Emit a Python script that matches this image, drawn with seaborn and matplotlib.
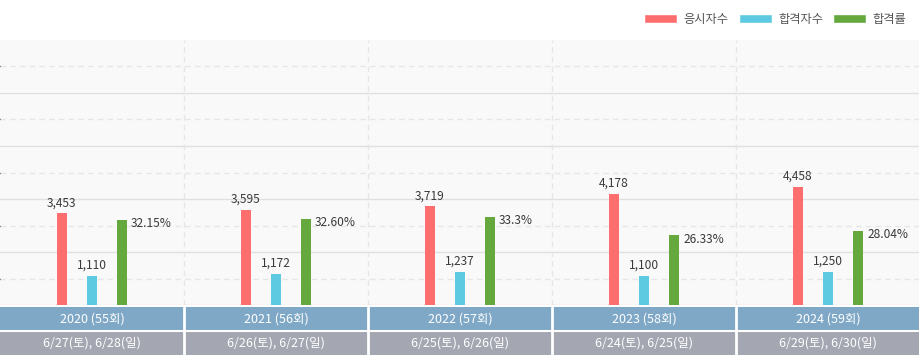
import matplotlib
matplotlib.use("Agg")
import matplotlib.pyplot as plt
import seaborn as sns
import pandas as pd
from matplotlib.patches import Patch

years = ["2020 (55회)", "2021 (56회)", "2022 (57회)", "2023 (58회)", "2024 (59회)"]
dates = ["6/27(토), 6/28(일)", "6/26(토), 6/27(일)", "6/25(토), 6/26(일)",
         "6/24(토), 6/25(일)", "6/29(토), 6/30(일)"]
applicants = [3453, 3595, 3719, 4178, 4458]
passers = [1110, 1172, 1237, 1100, 1250]
pass_rate = [32.15, 32.60, 33.3, 26.33, 28.04]
rate_labels = ["32.15%", "32.60%", "33.3%", "26.33%", "28.04%"]

series = ["응시자수", "합격자수", "합격률"]
colors = {"응시자수": "#ff6e6e", "합격자수": "#5ecae2", "합격률": "#64a83e"}

df = pd.DataFrame({
    "year": years * 3,
    "series": [series[0]] * 5 + [series[1]] * 5 + [series[2]] * 5,
    "value": applicants + passers + pass_rate,
})
is_rate = df["series"] == series[2]
# counts go on the left scale, the rate on its own 0-100 scale;
# the other series are kept at zero height so every group keeps three slots
left = df.assign(value=df["value"].where(~is_rate, 0))
right = df.assign(value=df["value"].where(is_rate, 0))

sns.set_theme(style="white")
plt.rcParams["font.family"] = ["Noto Sans CJK KR", "DejaVu Sans"]

fig = plt.figure(figsize=(9.2, 3.55), dpi=100)
ax = fig.add_axes([0, 50 / 355, 1, 265 / 355])
ax.set_facecolor("#f9f9f9")

W, GAP = 0.49, 0.67
opts = dict(x="year", y="value", hue="series", hue_order=series, order=years,
            palette=colors, width=W, gap=GAP, legend=False, saturation=1,
            errorbar=None, linewidth=0, zorder=3)
sns.barplot(data=left, ax=ax, **opts)
ax.set_ylim(0, 10000)
ax.set_yticks(range(0, 8001, 2000))
ax.set_yticks(range(1000, 10000, 2000), minor=True)
ax.grid(axis="y", which="major", color="#e0e0e0", lw=1, ls="-", zorder=0)
ax.grid(axis="y", which="minor", color="#e6e6e6", lw=1, ls=(0, (4, 3)), zorder=0)
ax.tick_params(left=False, bottom=False, which="both", labelleft=False, labelbottom=False)
for i in range(1, len(years)):
    ax.axvline(i - 0.5, color="#e6e6e6", lw=1, ls=(0, (4, 3)), zorder=1)
for s in ax.spines.values():
    s.set_visible(False)
ax.set_xlabel("")
ax.set_ylabel("")

ax2 = ax.twinx()
sns.barplot(data=right, ax=ax2, **opts)
ax2.set_ylim(0, 100)
ax2.axis("off")
ax.set_xlim(-0.5, len(years) - 0.5)
ax2.set_xlim(-0.5, len(years) - 0.5)

txt = "#3a3a3a"
for c in ax.containers[:2]:
    ax.bar_label(c, labels=[f"{v:,.0f}" for v in c.datavalues], padding=3,
                 fontsize=8.6, color=txt)
for bar, lab in zip(ax2.containers[2].patches, rate_labels):
    ax2.text(bar.get_x() + bar.get_width() + 0.022, bar.get_height() - 1.5, lab,
             ha="left", va="center", fontsize=8.6, color=txt)

# year / date rows below the chart
tax = fig.add_axes([0, 0, 1, 48 / 355])
tax.set_xlim(-0.5, len(years) - 0.5)
tax.set_ylim(0, 2)
tax.axhspan(1, 2, color="#7fa8c7", lw=0)
tax.axhspan(0, 1, color="#a4a7b1", lw=0)
tax.axhline(1, color="white", lw=1.5)
for i in range(1, len(years)):
    tax.axvline(i - 0.5, color="white", lw=2)
for i, (y, d) in enumerate(zip(years, dates)):
    tax.text(i, 1.5, y, ha="center", va="center", color="white", fontsize=9)
    tax.text(i, 0.5, d, ha="center", va="center", color="white", fontsize=9)
tax.axis("off")

handles = [Patch(facecolor=colors[s], label=s) for s in series]
fig.legend(handles=handles, loc="upper right", bbox_to_anchor=(0.997, 0.994), ncol=3,
           frameon=False, fontsize=8.8, handlelength=2.7, handleheight=0.75,
           columnspacing=0.85, handletextpad=0.5, labelcolor="#555555")

fig.savefig("out.png", dpi=100, facecolor="white")
